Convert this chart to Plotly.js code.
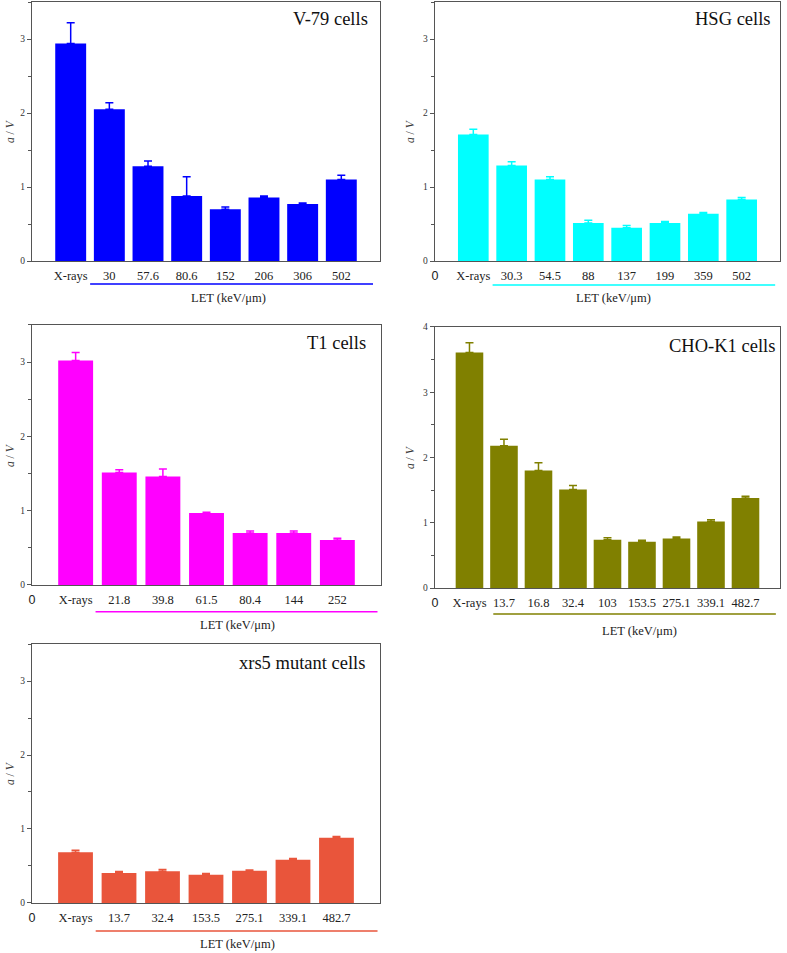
<!DOCTYPE html>
<html>
<head>
<meta charset="utf-8">
<script src="https://cdn.plot.ly/plotly-3.0.1.min.js"></script>
<style>html,body{margin:0;padding:0;background:#fff;}#chart{width:787px;height:953px;}</style>
</head>
<body>
<div id="chart"></div>
<script>
// ---- Data ----
const v79Labels = ['X-rays', '30', '57.6', '80.6', '152', '206', '306', '502'];
const v79Values = [2.94, 2.05, 1.28, 0.88, 0.70, 0.86, 0.77, 1.10];
const v79Errors = [0.28, 0.09, 0.07, 0.26, 0.03, 0.02, 0.015, 0.06];

const hsgLabels = ['X-rays', '30.3', '54.5', '88', '137', '199', '359', '502'];
const hsgValues = [1.71, 1.29, 1.10, 0.515, 0.45, 0.515, 0.64, 0.83];
const hsgErrors = [0.07, 0.05, 0.04, 0.035, 0.03, 0.02, 0.015, 0.03];

const t1Labels = ['X-rays', '21.8', '39.8', '61.5', '80.4', '144', '252'];
const t1Values = [3.02, 1.515, 1.46, 0.97, 0.70, 0.70, 0.605];
const t1Errors = [0.11, 0.035, 0.10, 0.01, 0.025, 0.025, 0.025];

const choLabels = ['X-rays', '13.7', '16.8', '32.4', '103', '153.5', '275.1', '339.1', '482.7'];
const choValues = [3.61, 2.18, 1.80, 1.51, 0.74, 0.71, 0.76, 1.02, 1.38];
const choErrors = [0.15, 0.10, 0.12, 0.06, 0.03, 0.02, 0.02, 0.025, 0.025];

const xrsLabels = ['X-rays', '13.7', '32.4', '153.5', '275.1', '339.1', '482.7'];
const xrsValues = [0.684, 0.405, 0.43, 0.38, 0.436, 0.585, 0.88];
const xrsErrors = [0.03, 0.02, 0.022, 0.02, 0.01, 0.015, 0.02];

const panelTitles = ['V-79 cells', 'HSG cells', 'T1 cells', 'CHO-K1 cells', 'xrs5 mutant cells'];
const xAxisTitle = 'LET (keV/μm)';
const yAxisTitle = '<i>a</i> / <i>V</i>';

// ---- Styling / layout ----
const panels = [
  {labels: v79Labels, values: v79Values, errors: v79Errors, color: '#0000FF', showZero: false, ymax: 3.5,
   xd: [0.0407, 0.4828], yd: [0.7261, 0.9979],
   line: [0.167, 0.98, -0.089], let: [228, 298], title: [370, 19], ytitle: [10, 131]},
  {labels: hsgLabels, values: hsgValues, errors: hsgErrors, color: '#00FFFF', showZero: true, ymax: 3.5,
   xd: [0.5527, 0.9911], yd: [0.7261, 0.9979],
   line: [0.167, 0.986, -0.093], let: [613, 298], title: [773, 19], ytitle: [410, 131]},
  {labels: t1Labels, values: t1Values, errors: t1Errors, color: '#FF00FF', showZero: true, ymax: 3.5,
   xd: [0.0407, 0.4841], yd: [0.3862, 0.6590],
   line: [0.182, 0.99, -0.103], let: [237, 625], title: [368, 343], ytitle: [10, 455]},
  {labels: choLabels, values: choValues, errors: choErrors, color: '#808000', showZero: true, ymax: 4,
   xd: [0.5527, 0.9911], yd: [0.3830, 0.6569],
   line: [0.169, 0.988, -0.1], let: [639, 631], title: [777, 346], ytitle: [410, 457]},
  {labels: xrsLabels, values: xrsValues, errors: xrsErrors, color: '#E9553B', showZero: true, ymax: 3.5,
   xd: [0.0407, 0.4828], yd: [0.0525, 0.3242],
   line: [0.183, 0.993, -0.108], let: [237, 944], title: [367, 663], ytitle: [10, 773]}
];

const W = 787, H = 953;
const serif = 'Liberation Serif';
const data = [];
const layout = {
  width: W, height: H,
  margin: {l: 0, r: 0, t: 0, b: 0},
  paper_bgcolor: '#ffffff', plot_bgcolor: '#ffffff',
  font: {family: serif},
  showlegend: false,
  shapes: [], annotations: []
};

panels.forEach((p, i) => {
  const n = i + 1;
  const xa = n === 1 ? 'x' : 'x' + n;
  const ya = n === 1 ? 'y' : 'y' + n;
  const xs = p.labels.map((_, k) => k + 1);
  data.push({
    type: 'bar', x: xs, y: p.values, xaxis: xa, yaxis: ya,
    width: 0.8,
    marker: {color: p.color, line: {width: 0}},
    error_y: {type: 'data', array: p.errors, arrayminus: p.errors.map(() => 0), symmetric: false,
              visible: true, color: p.color, thickness: 1.5, width: 4},
    hoverinfo: 'skip'
  });
  const tickvals = p.showZero ? [0].concat(xs) : xs.slice();
  const ticktext = (p.showZero ? ['<span style="font-family:Liberation Sans">0</span>'] : []).concat(p.labels);
  layout['xaxis' + (n === 1 ? '' : n)] = {
    domain: p.xd, anchor: ya, range: [0, p.labels.length + 1],
    tickmode: 'array', tickvals: tickvals, ticktext: ticktext,
    ticks: '', ticklabelstandoff: 3,
    tickfont: {family: serif, size: 12.5, color: '#222'},
    showgrid: false, zeroline: false, showline: true, linecolor: '#555', linewidth: 1.2, mirror: true,
    fixedrange: true
  };
  layout['yaxis' + (n === 1 ? '' : n)] = {
    domain: p.yd, anchor: xa, range: [0, p.ymax],
    tickmode: 'linear', tick0: 0, dtick: 1,
    ticks: 'outside', ticklen: 4, tickwidth: 1, tickcolor: '#555',
    minor: {dtick: 0.5, ticks: 'outside', ticklen: 2.5, tickwidth: 1, tickcolor: '#555', showgrid: false},
    tickfont: {family: serif, size: 9.5, color: '#333'},
    showgrid: false, zeroline: false, showline: true, linecolor: '#555', linewidth: 1.2, mirror: true,
    fixedrange: true
  };
  layout.shapes.push({
    type: 'line', xref: xa + ' domain', yref: ya + ' domain',
    x0: p.line[0], x1: p.line[1], y0: p.line[2], y1: p.line[2],
    line: {color: p.color, width: 1.5}
  });
  layout.annotations.push({
    text: xAxisTitle, xref: 'paper', yref: 'paper',
    x: p.let[0] / W, y: 1 - p.let[1] / H, xanchor: 'center', yanchor: 'middle',
    showarrow: false, font: {family: serif, size: 12.5, color: '#222'}
  });
  layout.annotations.push({
    text: panelTitles[i], xref: 'paper', yref: 'paper',
    x: p.title[0] / W, y: 1 - p.title[1] / H, xanchor: 'right', yanchor: 'middle',
    showarrow: false, font: {family: serif, size: 18.5, color: '#111'}
  });
  layout.annotations.push({
    text: yAxisTitle, xref: 'paper', yref: 'paper',
    x: p.ytitle[0] / W, y: 1 - p.ytitle[1] / H, xanchor: 'center', yanchor: 'middle',
    textangle: -90, showarrow: false, font: {family: serif, size: 11.5, color: '#333'}
  });
});

Plotly.newPlot('chart', data, layout, {staticPlot: true, displayModeBar: false});
</script>
</body>
</html>
